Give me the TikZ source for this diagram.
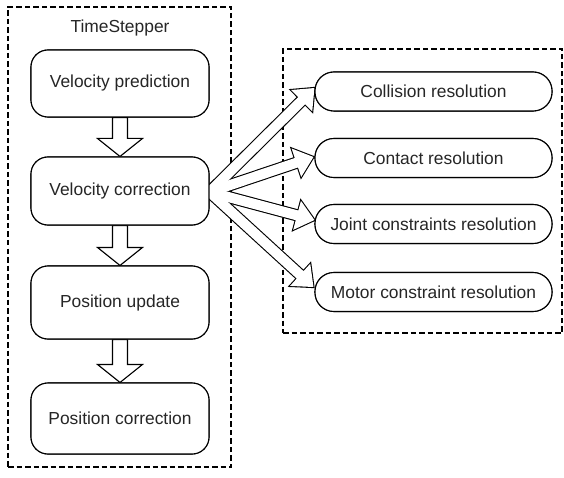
\documentclass[tikz,border=0pt]{standalone}
\usepackage{fontspec}
\setmainfont{Liberation Sans}
\usetikzlibrary{calc}
\newcommand{\diafont}{\fontsize{17.4}{20}\selectfont}
% block arrow: [opts]{tail}{tip}{half shaft}{half head}{head length}
\newcommand{\blockarr}[6][]{%
  \path[#1] ($(#2)!#4!90:(#3)$) -- ($(#3)!#6!(#2)!#4!90:(#3)$) -- ($(#3)!#6!(#2)!#5!90:(#3)$) -- (#3)
    -- ($(#3)!#6!(#2)!#5!-90:(#3)$) -- ($(#3)!#6!(#2)!#4!-90:(#3)$) -- ($(#2)!#4!-90:(#3)$) -- cycle;}
\tikzset{
  box/.style={draw, line width=1.1pt, fill=white, rounded corners=17pt, minimum width=178pt, inner sep=0pt, font=\diafont, text=black!85},
  rbox/.style={draw, line width=1.1pt, fill=white, rounded corners=19pt, minimum width=237pt, minimum height=39pt, inner sep=0pt, font=\diafont, text=black!85},
  dbox/.style={draw, line width=1.1pt, dash pattern=on 5.5pt off 3pt, inner sep=0pt},
}
\begin{document}
\begin{tikzpicture}[x=1pt, y=-1pt]
\useasboundingbox (0,0) rectangle (564,478);
% containers
\node[dbox, minimum width=223pt, minimum height=460pt] (left) at (119.5,237) {};
\node[dbox, minimum width=279pt, minimum height=284pt] (right) at (422.5,191) {};
\node[font=\diafont, text=black!85, inner sep=0pt] (title) at (120,28) {TimeStepper};
% left boxes (drawn later on top, defined now for anchors)
\path (120,83.5) node[box, minimum height=67pt] (vp) {Velocity prediction};
\path (120,191) node[box, minimum height=68pt] (vc) {Velocity correction};
\path (120,302.5) node[box, minimum height=73pt] (pu) {Position update};
\path (120,418.5) node[box, minimum height=71pt] (pc) {Position correction};
% right boxes
\path (433.5,91.5) node[rbox] (col) {Collision resolution};
\path (433.5,158) node[rbox] (con) {Contact resolution};
\path (433.5,224) node[rbox] (joi) {Joint constraints resolution};
\path (433.5,292) node[rbox] (mot) {Motor constraint resolution};
% arrow ends
\coordinate (src) at ([yshift=-1pt]vc.east);
\coordinate (t1) at ([yshift=3.5pt]col.west);
\coordinate (t2) at ([xshift=-1pt,yshift=1pt]con.west);
\coordinate (t3) at ([yshift=4pt]joi.west);
\coordinate (t4) at ([xshift=-1pt,yshift=5pt]mot.west);
% fan arrows as a merged outline
\foreach \t in {t1,t2,t3,t4} {\blockarr[draw, line width=2.2pt, line join=miter]{src}{\t}{5pt}{15pt}{18pt}}
\foreach \t in {t1,t2,t3,t4} {\blockarr[fill=white]{src}{\t}{5pt}{15pt}{18pt}}
% down arrows
\blockarr[draw, fill=white, line width=1.1pt]{vp.south}{vc.north}{7.5pt}{22.5pt}{18pt}
\blockarr[draw, fill=white, line width=1.1pt]{vc.south}{pu.north}{7.5pt}{22.5pt}{18pt}
\blockarr[draw, fill=white, line width=1.1pt]{pu.south}{pc.north}{7.5pt}{22.5pt}{18pt}
% redraw boxes on top
\path (120,83.5) node[box, minimum height=67pt] {Velocity prediction};
\path (120,191) node[box, minimum height=68pt] {Velocity correction};
\path (120,302.5) node[box, minimum height=73pt] {Position update};
\path (120,418.5) node[box, minimum height=71pt] {Position correction};
\path (433.5,91.5) node[rbox] {Collision resolution};
\path (433.5,158) node[rbox] {Contact resolution};
\path (433.5,224) node[rbox] {Joint constraints resolution};
\path (433.5,292) node[rbox] {Motor constraint resolution};
\end{tikzpicture}
\end{document}
